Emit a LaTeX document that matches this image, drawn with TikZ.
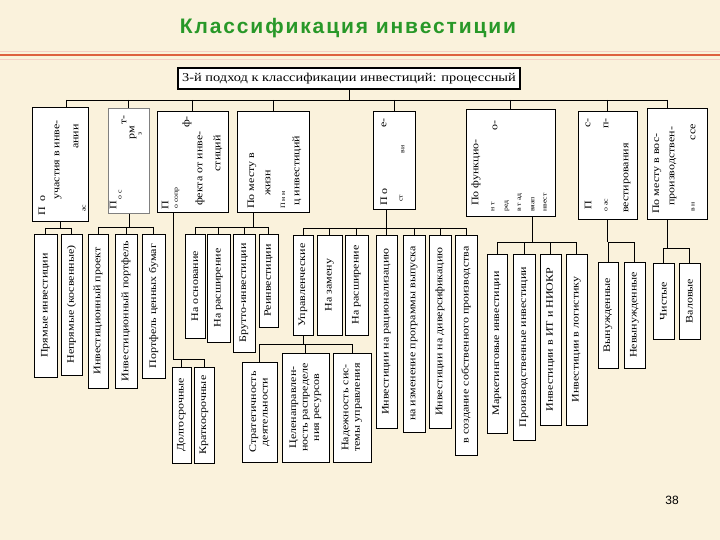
\documentclass[tikz,border=0pt]{standalone}
\usepackage{fontspec}
\setmainfont{Liberation Serif}
\newfontfamily\bxfont[FakeStretch=1.2]{Liberation Serif}
\newfontfamily\ttlfont[LetterSpace=9]{Liberation Sans}
\newfontfamily\pgfont{Liberation Sans}
\definecolor{bgc}{RGB}{250,242,220}
\definecolor{redl}{RGB}{222,96,64}
\definecolor{ttlg}{RGB}{40,152,40}
\tikzset{
  bx/.style={draw=black, line width=1pt, fill=white, inner sep=0pt},
  ltxt/.style={rotate=90, font=\bxfont\fontsize{10}{11.5}\selectfont, align=center, inner sep=0pt},
  ttx/.style={rotate=90, font=\bxfont\fontsize{10}{11}\selectfont, inner sep=0pt},
  tsm/.style={rotate=90, font=\bxfont\fontsize{6.5}{7}\selectfont, inner sep=0pt},
  cn/.style={draw=black, line width=0.9pt}
}
\newcommand{\mybox}[6]{%
  \node[bx, minimum width={#3pt-#2pt}, minimum height={#5pt-#4pt}] (#1) at ({(#2+#3)/2},{(#4+#5)/2}) {};
  \node[ltxt] (#1t) at (#1.center) {#6};}
\newcommand{\topbox}[6][black]{%
  \node[bx, draw=#1, minimum width={#4pt-#3pt}, minimum height={#6pt-#5pt}] (#2) at ({(#3+#4)/2},{(#5+#6)/2}) {};}
\newcommand{\col}[4]{\node[ttx, anchor=#4] at (#1,#2) {#3};}
\newcommand{\colsm}[4]{\node[tsm, anchor=#4] at (#1,#2) {#3};}
\begin{document}
\begin{tikzpicture}[x=1pt,y=-1pt]
\useasboundingbox (0,0) rectangle (720,540);
\fill[bgc] (0,0) rectangle (720,540);
\draw[redl!30, line width=0.8pt] (0,51) -- (720,51);
\draw[redl, line width=1.8pt] (0,55) -- (720,55);
\draw[redl!30, line width=0.8pt] (0,59) -- (720,59);
\node[font=\ttlfont\bfseries\fontsize{21}{24}\selectfont, text=ttlg] (title) at (348,28) {Классификация инвестиции};
\node[font=\pgfont\fontsize{12}{14}\selectfont] at (672,500) (pg) {38};

% root box
\node[draw=black, line width=1.6pt, fill=white, minimum width=342pt, minimum height=21pt, inner sep=0pt,
      font=\bxfont\fontsize{12}{13}\selectfont] (root) at (349,78.5) {3-й подход к классификации инвестиций: процессный};

% top row boxes
\topbox{t1}{32}{88}{108}{222}
\topbox[gray]{t2}{108}{149}{109}{214}
\topbox{t3}{157}{228}{112}{213}
\topbox{t4}{237}{309}{112}{213}
\topbox{t5}{373}{415}{112}{210}
\topbox{t6}{466}{555}{110}{217}
\topbox{t7}{578}{637}{112}{220}
\topbox{t8}{647}{707}{109}{220}

% top box texts (as printed)
\col{42}{216}{П\ \ о}{west}
\col{58}{160}{участия в инве-}{center}
\col{76}{124}{ании}{east}
\colsm{84}{212}{ас}{west}
\col{113}{210}{П}{west}
\colsm{120}{200}{о с}{west}
\col{124}{115}{т-}{east}
\col{133}{126}{рм}{east}
\colsm{140}{132}{з}{east}
\col{165}{210}{П}{west}
\colsm{177}{209}{о сопр}{west}
\col{187}{116}{ф-}{east}
\col{200}{206}{фекта от инве-}{west}
\col{218}{135}{стиций}{east}
\col{252}{209}{По месту в}{west}
\col{268}{196}{жизн}{west}
\colsm{283}{209}{П н н}{west}
\col{297}{206}{ц инвестиций}{west}
\col{384}{206}{П\ о}{west}
\col{384}{118}{е-}{east}
\colsm{401}{202}{ст}{west}
\colsm{403}{145}{ви}{east}
\col{476}{206}{По функцио-}{west}
\col{495}{120}{о-}{east}
\colsm{493}{212}{н т}{west}
\colsm{507}{212}{ред}{west}
\colsm{520}{212}{в т ад}{west}
\colsm{533}{212}{вяап}{west}
\colsm{545}{212}{нвест}{west}
\col{588}{210}{П}{west}
\col{588}{118}{с-}{east}
\col{606}{118}{п-}{east}
\colsm{606}{212}{о ас}{west}
\col{627}{213}{вестирования}{west}
\col{657}{214}{По месту в вос-}{west}
\col{673}{206}{производствен-}{west}
\col{693}{124}{ссе}{east}
\colsm{693}{212}{в н}{west}

% lower boxes
\mybox{a1}{34}{57}{234}{377}{Прямые инвестиции}
\mybox{a2}{61}{82}{234}{375}{Непрямые (косвенные)}
\mybox{b1}{88}{108}{234}{388}{Инвестиционный проект}
\mybox{b2}{115}{137}{234}{388}{Инвестиционный портфель}
\mybox{b3}{142}{165}{234}{378}{Портфель ценных бумаг}
\mybox{c1}{172}{191}{367}{463}{Долгосрочные}
\mybox{c2}{194}{214}{367}{463}{Краткосрочные}
\mybox{d1}{185}{205}{234}{338}{На основание}
\mybox{d2}{207}{230}{234}{342}{На расширение}
\mybox{d3}{233}{255}{234}{352}{Брутто-инвестиции}
\mybox{d4}{259}{278}{234}{327}{Реинвестиции}
\mybox{e1}{293}{313}{235}{335}{Управленческие}
\mybox{e2}{317}{342}{235}{335}{На замену}
\mybox{e3}{345}{368}{235}{335}{На расширение}
\mybox{e4}{376}{397}{235}{428}{Инвестиции на рационализацию}
\mybox{e5}{403}{425}{235}{432}{на изменение программы выпуска}
\mybox{e6}{429}{451}{235}{428}{Инвестиции на диверсификацию}
\mybox{e7}{455}{477}{235}{455}{в создание собственного производства}
\mybox{u1}{242}{277}{362}{462}{Стратегичность\\деятельности}
\mybox{u2}{282}{329}{353}{462}{Целенаправлен-\\ность распределе\\ния ресурсов}
\mybox{u3}{333}{371}{353}{462}{Надежность сис-\\темы управления}
\mybox{f1}{487}{507}{254}{433}{Маркетинговые инвестиции}
\mybox{f2}{513}{535}{254}{440}{Производственные инвестиции}
\mybox{f3}{540}{561}{254}{425}{Инвестиции в ИТ и НИОКР}
\mybox{f4}{566}{587}{254}{425}{Инвестиции в логистику}
\mybox{g1}{598}{618}{262}{368}{Вынужденные}
\mybox{g2}{624}{645}{262}{368}{Невынужденные}
\mybox{h1}{653}{674}{263}{339}{Чистые}
\mybox{h2}{679}{700}{263}{339}{Валовые}

% main bus
\coordinate (busL) at (66,100);
\coordinate (busR) at (667,100);
\draw[cn] (root.south) -- (root.south |- busL);
\draw[cn] (busL) -- (busR);
\draw[cn] (busL) -- (busL |- t1.north);
\foreach \t in {t2,t3,t4,t5,t6,t7} \draw[cn] (\t.north |- busL) -- (\t.north);
\draw[cn] (busR) -- (busR |- t8.north);

% drop points
\coordinate (p1) at (60,222);
\coordinate (p2) at (129,214);
\coordinate (p3) at (173,213);
\coordinate (p4) at (253,213);
\coordinate (p5) at (386,210);
\coordinate (p6) at (532,217);
\coordinate (p7) at (607.5,220);
\coordinate (p8) at (667,220);
\coordinate (pu) at (e1.south);

% forks
\coordinate (q1) at (60,228);
\draw[cn] (p1) -- (q1); \draw[cn] (a1.north |- q1) -- (a2.north |- q1);
\foreach \n in {a1,a2} \draw[cn] (\n.north |- q1) -- (\n.north);

\coordinate (q2) at (129,227);
\draw[cn] (p2) -- (q2); \draw[cn] (b1.north |- q2) -- (b3.north |- q2);
\foreach \n in {b1,b2,b3} \draw[cn] (\n.north |- q2) -- (\n.north);

\coordinate (q3) at (173,359);
\draw[cn] (p3) -- (q3) -- (c2.north |- q3);
\foreach \n in {c1,c2} \draw[cn] (\n.north |- q3) -- (\n.north);

\coordinate (q4) at (253,227);
\draw[cn] (p4) -- (q4); \draw[cn] (d1.north |- q4) -- (d4.north |- q4);
\foreach \n in {d1,d2,d3,d4} \draw[cn] (\n.north |- q4) -- (\n.north);

\coordinate (q5) at (386,228);
\draw[cn] (p5) -- (q5); \draw[cn] (e1.north |- q5) -- (e7.north |- q5);
\foreach \n in {e1,e2,e3,e4,e5,e6,e7} \draw[cn] (\n.north |- q5) -- (\n.north);

\coordinate (qu) at (303,344);
\draw[cn] (pu) -- (qu); \draw[cn] (u1.north |- qu) -- (u3.north |- qu);
\foreach \n in {u1,u2,u3} \draw[cn] (\n.north |- qu) -- (\n.north);

\coordinate (q6) at (532,242);
\draw[cn] (p6) -- (q6); \draw[cn] (f1.north |- q6) -- (f4.north |- q6);
\foreach \n in {f1,f2,f3,f4} \draw[cn] (\n.north |- q6) -- (\n.north);

\coordinate (q7) at (607.5,242);
\draw[cn] (p7) -- (q7); \draw[cn] (g1.north |- q7) -- (g2.north |- q7);
\foreach \n in {g1,g2} \draw[cn] (\n.north |- q7) -- (\n.north);

\coordinate (q8) at (667,248);
\draw[cn] (p8) -- (q8); \draw[cn] (h1.north |- q8) -- (h2.north |- q8);
\foreach \n in {h1,h2} \draw[cn] (\n.north |- q8) -- (\n.north);
\end{tikzpicture}
\end{document}
